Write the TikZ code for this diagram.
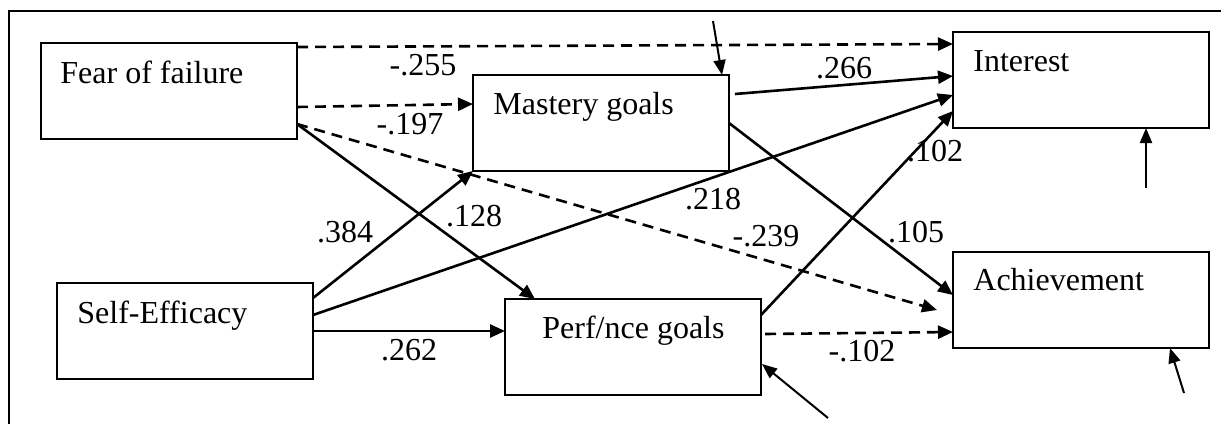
\documentclass[tikz,border=0pt]{standalone}
\usepackage{fontspec}
\setmainfont{Liberation Serif}
\usetikzlibrary{arrows.meta,calc}
\begin{document}
\begin{tikzpicture}[x=0.5pt,y=-0.5pt,
  box/.style={draw, line width=1pt, minimum width=128pt, minimum height=48pt, inner sep=0pt, outer sep=0pt, anchor=north west},
  txt/.style={anchor=base west, inner sep=0pt, font=\fontsize{16}{19}\selectfont},
  lbl/.style={inner sep=0pt, font=\fontsize{16}{19}\selectfont},
  conn/.style={line width=1.3pt, -{Triangle[length=7.5pt,width=6.5pt]}},
  dsh/.style={conn, dash pattern=on 5.5pt off 3.5pt},
  err/.style={line width=1pt, -{Triangle[length=7.5pt,width=6pt]}}]
\useasboundingbox (0,0) rectangle (1221,424);
\draw[line width=1pt] (9,424) -- (9,11) -- (1221,11);
% boxes
\node[box] (fear) at (41,43) {};
\node[box] (mast) at (473,75) {};
\node[box] (intr) at (953,32) {};
\node[box] (self) at (57,283) {};
\node[box] (perf) at (505,299) {};
\node[box] (ach) at (953,252) {};
% texts
\node[txt] (fearT) at (60,83) {Fear of failure};
\node[txt] (mastT) at (493,114) {Mastery goals};
\node[txt] (intrT) at (973,71) {Interest};
\node[txt] (selfT) at (77,323) {Self-Efficacy};
\node[txt] (perfT) at (542,338) {Perf/nce goals};
\node[txt] (achT) at (973,290) {Achievement};
% connectors
\draw[dsh] ($(fear.north east)+(0,4)$) -- ($(intr.north west)+(0,12)$);
\draw[dsh] ($(fear.north east)+(0,64)$) -- ($(mast.north west)+(0,29)$);
\draw[dsh] ($(fear.north east)+(0,81)$) -- ($(ach.west)+(-16,10)$);
\draw[conn] ($(fear.north east)+(0,81)$) -- ($(perf.north west)+(30,0)$);
\draw[conn] ($(self.north east)+(0,15)$) -- (mast.south west);
\draw[conn] ($(self.north east)+(0,32)$) -- ($(intr.north west)+(0,63)$);
\draw[conn] ($(self.north east)+(0,48)$) -- ($(perf.north west)+(0,32)$);
\draw[conn] ($(mast.north east)+(6,19)$) -- ($(intr.north west)+(0,44)$);
\draw[conn] ($(mast.north east)+(0,48)$) -- ($(ach.north west)+(0,43)$);
\draw[conn] ($(perf.north east)+(0,16)$) -- ($(intr.north west)+(0,79)$);
\draw[dsh] ($(perf.north east)+(4,35)$) -- ($(ach.north west)+(0,80)$);
% error terms
\coordinate (e1) at (713,21);
\coordinate (e2) at (1146,188);
\coordinate (e3) at (1184,393);
\coordinate (e4) at (828,418);
\draw[err] (e1) -- ($(mast.north east)+(-7,0)$);
\draw[err] (e2) -- ($(intr.south west)+(193,0)$);
\draw[err] (e3) -- ($(ach.south west)+(217,0)$);
\draw[err] (e4) -- ($(perf.north east)+(1,65)$);
% labels
\node[lbl] (l255) at (423,65) {-.255};
\node[lbl] (l197) at (410,124) {-.197};
\node[lbl] (l239) at (766,236) {-.239};
\node[lbl] (l128) at (474,216) {.128};
\node[lbl] (l384) at (345,232) {.384};
\node[lbl] (l218) at (713,199) {.218};
\node[lbl] (l262) at (409,350) {.262};
\node[lbl] (l266) at (844,68) {.266};
\node[lbl] (l105) at (916,232) {.105};
\node[lbl] (l102a) at (935,151) {.102};
\node[lbl] (l102b) at (862,351) {-.102};
\end{tikzpicture}
\end{document}
